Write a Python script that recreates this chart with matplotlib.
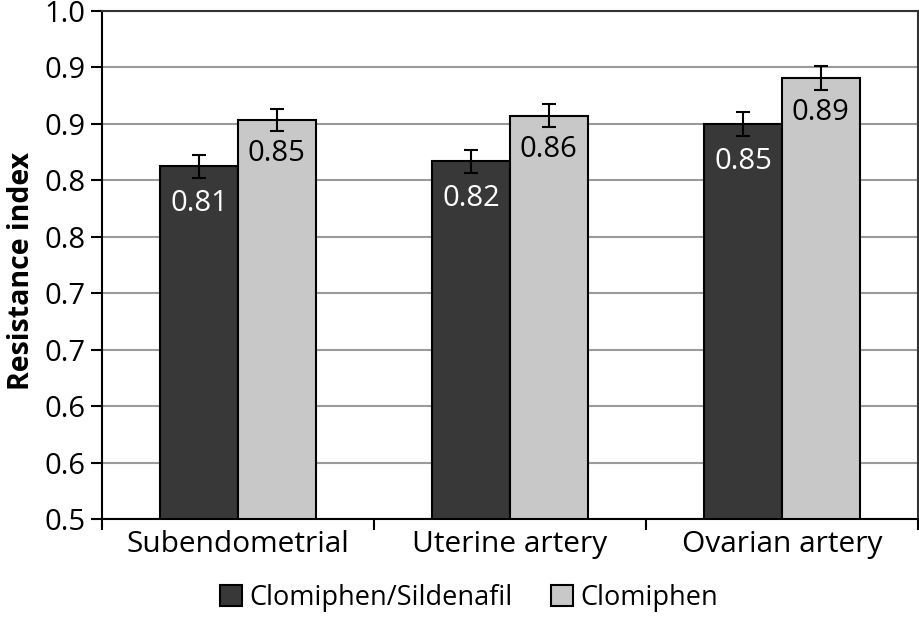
import matplotlib
matplotlib.use("Agg")
import matplotlib.pyplot as plt
import numpy as np

categories = ["Subendometrial", "Uterine artery", "Ovarian artery"]
series_names = ["Clomiphen/Sildenafil", "Clomiphen"]
combo_values = [0.847, 0.852, 0.889]
clom_values = [0.893, 0.897, 0.934]
combo_err = [0.011, 0.011, 0.012]
clom_err = [0.011, 0.011, 0.012]
combo_labels = ["0.81", "0.82", "0.85"]
clom_labels = ["0.85", "0.86", "0.89"]
ytick_values = list(np.linspace(0.5, 1.0, 10))
ytick_labels = ["0.5", "0.6", "0.6", "0.7", "0.7", "0.8", "0.8", "0.9", "0.9", "1.0"]

plt.rcParams['font.family'] = ['Open Sans', 'DejaVu Sans']

W, H = 920, 617
fig = plt.figure(figsize=(W / 100, H / 100), dpi=100)
ax = fig.add_axes([102 / W, 1 - 519 / H, (918 - 102) / W, (519 - 11) / H])

dark = "#383838"
light = "#c8c8c8"
bw = 0.285
x = np.arange(len(categories))

ax.set_axisbelow(True)
ax.yaxis.grid(True, color="#9a9a9a", linewidth=1.5)

b1 = ax.bar(x - bw / 2, combo_values, bw, color=dark, edgecolor="black", linewidth=1.5,
            yerr=combo_err, capsize=5, error_kw=dict(elinewidth=1.5, capthick=1.5, ecolor="black"),
            label=series_names[0])
b2 = ax.bar(x + bw / 2, clom_values, bw, color=light, edgecolor="black", linewidth=1.5,
            yerr=clom_err, capsize=5, error_kw=dict(elinewidth=1.5, capthick=1.5, ecolor="black"),
            label=series_names[1])

for xi, v, t in zip(x - bw / 2, combo_values, combo_labels):
    ax.annotate(t, (xi, v), xytext=(0, -27), textcoords="offset points",
                ha="center", va="center", fontsize=21, color="white")
for xi, v, t in zip(x + bw / 2, clom_values, clom_labels):
    ax.annotate(t, (xi, v), xytext=(0, -24.5), textcoords="offset points",
                ha="center", va="center", fontsize=21, color="black")

ax.set_ylim(0.5, 1.0)
ax.set_xlim(-0.5, 2.5)
ax.set_yticks(ytick_values)
ax.set_yticklabels(ytick_labels, fontsize=21)
ax.tick_params(axis="y", length=8, width=1.5, pad=4)
ax.set_xticks(x)
ax.set_xticklabels(categories, fontsize=21.5)
ax.tick_params(axis="x", which="major", length=0, pad=8)
ax.set_xticks(np.arange(-0.5, len(categories), 1.0), minor=True)
ax.tick_params(axis="x", which="minor", length=8, width=1.5)

for s in ["left", "bottom"]:
    ax.spines[s].set_linewidth(1.5)
for s in ["top", "right"]:
    ax.spines[s].set_linewidth(1.5)
    ax.spines[s].set_color("#333333")

ax.set_ylabel("Resistance index", fontsize=20.5, fontweight="bold")
ax.yaxis.set_label_coords(-66 / 816, (519 - 271) / 508)

fig.legend(handles=[b1, b2], labels=series_names, loc="center", bbox_to_anchor=(0.51, 1 - 598 / H),
           ncol=2, frameon=False, fontsize=19.5, handlelength=0.8, handleheight=0.8,
           handletextpad=0.3, columnspacing=1.4)

fig.savefig("out.png", dpi=100)
